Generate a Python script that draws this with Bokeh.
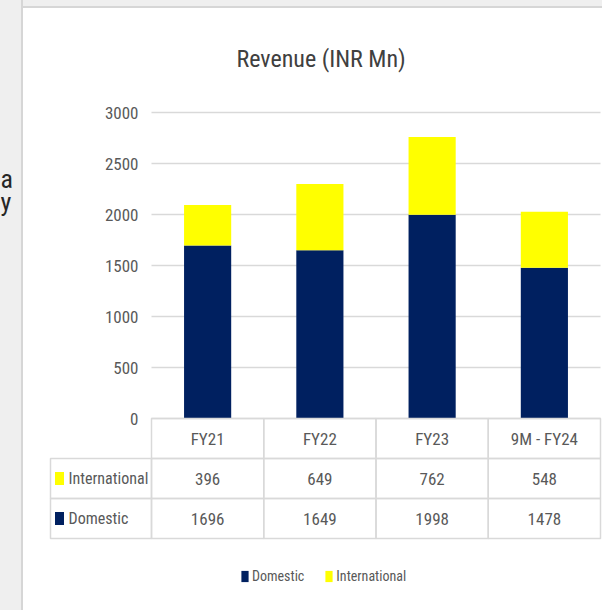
from bokeh.plotting import figure
from bokeh.models import (ColumnDataSource, LinearAxis, FixedTicker, Range1d,
                          Legend, LegendItem, Label)
from bokeh.embed import file_html
from bokeh.resources import INLINE

# ---------------- data ----------------
categories = ["FY21", "FY22", "FY23", "9M - FY24"]
domestic = [1696, 1649, 1998, 1478]
international = [396, 649, 762, 548]
series_names = ["Domestic", "International"]
y_ticks = [0, 500, 1000, 1500, 2000, 2500, 3000]

# ---------------- style / layout ----------------
NAVY = "#002060"
YELLOW = "#FFFF00"
GRID = "#d9d9d9"
TEXT = "#595959"
TITLE_C = "#404040"
FONT = "'Roboto Condensed', 'DejaVu Sans Condensed', sans-serif"

W, H = 602, 610
COL_PX = 112.25          # px per category column
PX_PER_UNIT = 0.102      # px per revenue unit
FRAME_L, FRAME_T, FRAME_B = 0, 100, 610
ZERO_X, ZERO_Y = 151, 418
LABEL_COL_L = 50

x0 = -(ZERO_X - FRAME_L) / COL_PX
x1 = (W - ZERO_X) / COL_PX
y1 = (ZERO_Y - FRAME_T) / PX_PER_UNIT
y0 = -(FRAME_B - ZERO_Y) / PX_PER_UNIT
row_h = 40 / PX_PER_UNIT
label_left = -(ZERO_X - LABEL_COL_L) / COL_PX
key_x = label_left + 9 / COL_PX

p = figure(width=W, height=H, x_range=Range1d(x0, x1), y_range=Range1d(y0, y1),
           x_axis_location=None, y_axis_location=None, toolbar_location=None,
           output_backend="svg", min_border_left=FRAME_L, min_border_right=0,
           min_border_top=FRAME_T, min_border_bottom=0,
           outline_line_color=None, border_fill_color=None,
           background_fill_color=None, title="Revenue (INR Mn)")
p.grid.visible = False
p.styles = {"background": "linear-gradient(to right, #efefef 0px, #efefef 21px, "
                          "#d6d6d6 21px, #d6d6d6 23px, rgba(255,255,255,0) 23px), "
                          "linear-gradient(to bottom, #efefef 0px, #efefef 6px, "
                          "#d6d6d6 6px, #d6d6d6 8px, #ffffff 8px)"}

p.title.align = "left"
p.title.offset = 236
p.title.text_font = FONT
p.title.text_font_size = "24px"
p.title.text_font_style = "normal"
p.title.text_color = TITLE_C
p.title.standoff = 56

# gridlines (from tick values)
n = len(categories)
p.segment(x0=[0] * len(y_ticks), x1=[n] * len(y_ticks), y0=y_ticks, y1=y_ticks,
          line_color=GRID, line_width=1.5)

# bars
xs = [i + 0.5 for i in range(n)]
src = ColumnDataSource(dict(x=xs, Domestic=domestic, International=international))
bars = p.vbar_stack(series_names, x="x", width=0.42, color=[NAVY, YELLOW],
                    line_color=None, source=src)

# y axis placed at x=0 inside the frame
yax = LinearAxis(ticker=FixedTicker(ticks=y_ticks), fixed_location=0,
                 axis_line_color=None, major_tick_line_color=None,
                 minor_tick_line_color=None, major_tick_in=0, major_tick_out=0,
                 major_label_standoff=13, major_label_text_font=FONT,
                 major_label_text_font_size="17px", major_label_text_color=TEXT)
p.add_layout(yax, "left")

# data table cells
lefts, rights, tops, bottoms = [], [], [], []
rows = [("header", 0), ("International", 1), ("Domestic", 2)]
for name, r in rows:
    top = -r * row_h
    bot = -(r + 1) * row_h
    if name != "header":
        lefts.append(label_left); rights.append(0); tops.append(top); bottoms.append(bot)
    for i in range(n):
        lefts.append(i); rights.append(i + 1); tops.append(top); bottoms.append(bot)
p.quad(left=lefts, right=rights, top=tops, bottom=bottoms, fill_color=None,
       line_color=GRID, line_width=1.5)

# header + values
tx, ty, tt = [], [], []
for i, c in enumerate(categories):
    tx.append(xs[i]); ty.append(-0.5 * row_h); tt.append(c)
for i, v in enumerate(international):
    tx.append(xs[i]); ty.append(-1.5 * row_h); tt.append(str(v))
for i, v in enumerate(domestic):
    tx.append(xs[i]); ty.append(-2.5 * row_h); tt.append(str(v))
p.text(x=tx, y=ty, text=tt, text_align="center", text_baseline="middle",
       text_font={"value": FONT}, text_font_size="17px", text_color=TEXT)

# row labels with keys
p.rect(x=[key_x, key_x], y=[-1.5 * row_h, -2.5 * row_h], width=9, height=13,
       width_units="screen", height_units="screen",
       fill_color=[YELLOW, NAVY], line_color=None)
p.text(x=[label_left, label_left], y=[-1.5 * row_h, -2.5 * row_h],
       text=["International", "Domestic"], x_offset=18,
       text_align="left", text_baseline="middle",
       text_font={"value": FONT}, text_font_size="16px", text_color=TEXT)

# bottom legend (inside the lower part of the frame)
legend = Legend(items=[LegendItem(label=series_names[0], renderers=[bars[0]]),
                       LegendItem(label=series_names[1], renderers=[bars[1]])],
                orientation="horizontal", location=(240, 26),
                glyph_width=9, glyph_height=14, label_standoff=3, spacing=20,
                padding=0, margin=0, border_line_color=None,
                background_fill_alpha=0, label_text_font=FONT,
                label_text_font_size="14px", label_text_color=TEXT)
p.add_layout(legend, "center")

# fragments of the surrounding slide text at the left edge
for txt, base_y in [("a", 178), ("y", 201)]:
    p.add_layout(Label(x=0, y=H - base_y, x_units="screen", y_units="screen",
                       text=txt, text_font=FONT, text_font_size="26px",
                       text_color="#262626", text_baseline="alphabetic"))

open("out.html", "w").write(file_html(p, INLINE))
